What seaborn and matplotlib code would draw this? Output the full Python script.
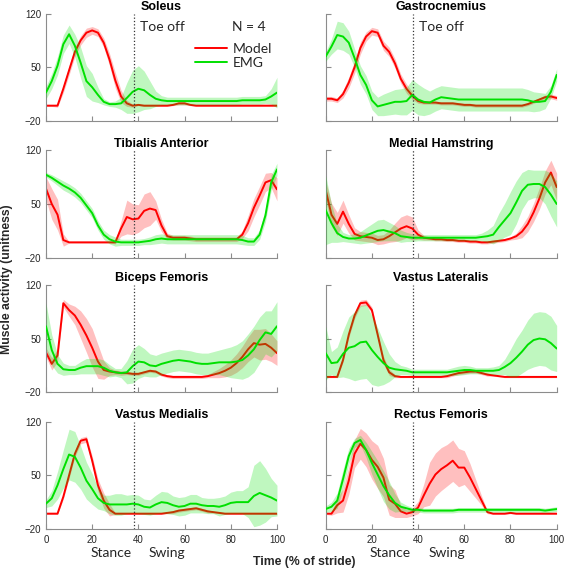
import numpy as np
import pandas as pd
import matplotlib
matplotlib.use("Agg")
import matplotlib.pyplot as plt
from matplotlib.lines import Line2D
import seaborn as sns

sns.set_style("ticks")
plt.rcParams["font.family"] = ["Liberation Sans", "DejaVu Sans"]

# % of stride
PCT = [0, 2.5, 5, 7.5, 10, 12.5, 15, 17.5, 20, 22.5, 25, 27.5, 30, 32.5, 35, 37.5, 40,
       42.5, 45, 47.5, 50, 52.5, 55, 57.5, 60, 62.5, 65, 67.5, 70, 72.5, 75, 77.5, 80,
       82.5, 85, 87.5, 90, 92.5, 95, 97.5, 100]

MUSCLES = ["Soleus", "Gastrocnemius", "Tibialis Anterior", "Medial Hamstring",
           "Biceps Femoris", "Vastus Lateralis", "Vastus Medialis", "Rectus Femoris"]

SOL_MODEL = [0, 0, 0, 22, 46, 70, 85, 95, 98, 95, 82, 60, 33, 12, 3, 0, 1, 0, 0, 0, 0, 0, 1, 3, 3, 1,
             0, 0, 0, 0, 0, 0, 0, 0, 0, 0, 0, 0, 0, 0, 0]
SOL_MODEL_SD = [1, 1, 2, 5, 6, 6, 6, 6, 5, 5, 6, 8, 10, 8, 4, 2, 1, 1, 1, 1, 1, 1, 1, 2, 2, 1,
                1, 1, 1, 1, 1, 1, 1, 1, 1, 1, 1, 1, 1, 1, 1]
SOL_EMG = [17, 32, 52, 80, 93, 78, 56, 32, 24, 14, 5, 2, 2, 3, 10, 18, 22, 20, 14, 9, 7, 6, 6, 6, 6,
           6, 6, 6, 6, 6, 6, 6, 6, 6, 7, 7, 7, 7, 8, 12, 17]
SOL_EMG_SD = [8, 10, 12, 12, 12, 15, 20, 20, 18, 10, 4, 3, 4, 8, 20, 28, 30, 25, 18, 10, 6, 5, 5, 5,
              5, 5, 5, 5, 5, 5, 5, 5, 5, 5, 5, 5, 5, 5, 5, 10, 20]

GAS_MODEL = [9, 9, 7, 15, 30, 50, 75, 90, 97, 95, 78, 70, 55, 35, 22, 13, 6, 4, 4, 4, 3, 3, 3, 2, 1,
             1, 0, 0, 0, 0, 0, 0, 0, 0, 0, 2, 5, 8, 11, 12, 10]
GAS_MODEL_SD = [3, 3, 3, 5, 7, 8, 8, 6, 5, 5, 6, 6, 6, 6, 6, 5, 3, 2, 2, 2, 2, 2, 2, 2, 2, 2, 2, 2,
                2, 2, 2, 2, 2, 2, 2, 2, 2, 2, 3, 3, 3]
GAS_EMG = [64, 77, 92, 90, 82, 62, 40, 27, 7, -1, 1, 3, 5, 5, 6, 14, 8, 5, 4, 8, 11, 10, 9, 8, 8, 8,
           8, 8, 8, 8, 8, 8, 8, 8, 8, 7, 5, 5, 6, 18, 40]
GAS_EMG_SD = [6, 10, 18, 18, 15, 12, 12, 12, 12, 12, 14, 15, 16, 17, 18, 20, 20, 18, 15, 15, 15, 15,
              15, 15, 15, 15, 15, 15, 15, 15, 15, 15, 15, 15, 15, 14, 13, 12, 10, 8, 8]

TA_MODEL = [70, 50, 36, 3, 0, 0, 0, 0, 0, 0, 0, 0, 0, 18, 33, 30, 31, 41, 44, 42, 22, 8, 6, 6, 6, 5,
            4, 4, 4, 4, 4, 4, 4, 4, 10, 25, 45, 61, 78, 81, 69]
TA_MODEL_SD = [15, 20, 20, 8, 1, 1, 1, 1, 1, 1, 1, 1, 2, 10, 22, 20, 18, 22, 22, 12, 8, 4, 3, 3, 3, 3,
               3, 3, 3, 3, 3, 3, 3, 3, 5, 10, 12, 12, 12, 10, 15]
TA_EMG = [88, 84, 79, 74, 70, 65, 58, 48, 38, 22, 10, 4, 1, 0, 0, 0, 0, 1, 2, 4, 5, 4, 4, 4, 4, 4, 4,
          4, 4, 4, 4, 4, 4, 4, 3, 1, 1, 10, 35, 78, 95]
TA_EMG_SD = [3, 4, 5, 6, 6, 6, 6, 6, 6, 6, 6, 6, 6, 4, 4, 4, 4, 4, 5, 6, 6, 6, 6, 6, 6, 6, 6, 6, 6, 6,
             6, 6, 6, 6, 6, 5, 5, 6, 8, 10, 8]

MH_MODEL = [68, 36, 24, 40, 24, 11, 8, 7, 6, 3, 4, 8, 13, 18, 21, 18, 10, 6, 5, 4, 4, 3, 3, 2, 2, 1,
            1, 0, 0, 1, 2, 3, 5, 8, 14, 24, 39, 57, 78, 91, 72]
MH_MODEL_SD = [12, 15, 15, 15, 12, 8, 6, 6, 6, 6, 6, 8, 12, 15, 15, 15, 6, 3, 2, 2, 2, 2, 2, 2, 2, 2,
               2, 2, 2, 2, 2, 2, 2, 4, 8, 10, 12, 14, 15, 16, 18]
MH_EMG = [42, 25, 12, 7, 5, 5, 6, 9, 12, 15, 16, 14, 12, 8, 7, 6, 6, 6, 6, 6, 6, 6, 6, 6, 6, 6, 6, 7,
          8, 10, 20, 29, 38, 52, 67, 75, 76, 76, 72, 62, 50]
MH_EMG_SD = [45, 25, 12, 6, 5, 6, 8, 10, 12, 14, 14, 12, 10, 8, 6, 5, 4, 4, 4, 4, 4, 4, 4, 4, 4, 4, 4,
             5, 8, 12, 18, 22, 28, 28, 24, 20, 18, 18, 22, 28, 30]

BF_MODEL = [32, 17, 28, 96, 87, 80, 68, 54, 38, 20, 9, 7, 6, 5, 5, 4, 4, 6, 8, 7, 3, 1, 0, 0, 0, 0, 0,
            0, 1, 3, 5, 8, 12, 18, 26, 36, 44, 42, 43, 38, 31]
BF_MODEL_SD = [6, 8, 8, 5, 8, 12, 18, 22, 25, 22, 12, 5, 3, 3, 2, 2, 2, 2, 2, 2, 2, 2, 2, 2, 2, 2, 2,
               2, 2, 4, 6, 8, 10, 12, 14, 16, 18, 20, 20, 18, 16]
BF_EMG = [66, 35, 17, 10, 9, 9, 12, 14, 14, 14, 12, 8, 6, 5, 6, 14, 20, 19, 15, 14, 17, 19, 21, 22, 21,
          20, 18, 17, 17, 18, 19, 19, 19, 20, 22, 28, 36, 48, 58, 56, 66]
BF_EMG_SD = [30, 20, 12, 8, 6, 6, 8, 10, 10, 10, 10, 8, 5, 6, 15, 22, 22, 18, 15, 14, 14, 14, 14, 14,
             14, 14, 14, 14, 14, 15, 16, 18, 20, 22, 25, 28, 30, 30, 28, 30, 32]

VL_MODEL = [0, 0, 0, 22, 55, 80, 96, 97, 87, 55, 22, 6, 1, 0, 0, 0, 0, 0, 0, 0, 0, 1, 3, 5, 6, 7, 7, 5,
            3, 2, 1, 0, 0, 0, 0, 0, 0, 0, 0, 0, 0]
VL_MODEL_SD = [1, 1, 1, 3, 4, 4, 4, 4, 4, 4, 5, 4, 2, 1, 1, 1, 1, 1, 1, 1, 1, 2, 2, 2, 2, 2, 2, 2, 2,
               1, 1, 1, 1, 1, 1, 1, 1, 1, 1, 1, 1]
VL_EMG = [31, 18, 19, 30, 38, 40, 45, 46, 35, 26, 18, 12, 10, 9, 8, 6, 6, 6, 6, 6, 6, 6, 7, 8, 9, 9, 8,
          8, 8, 8, 9, 13, 18, 25, 33, 42, 48, 50, 49, 44, 37]
VL_EMG_SD = [35, 15, 20, 30, 40, 45, 48, 48, 45, 38, 28, 18, 10, 6, 5, 4, 4, 4, 4, 4, 4, 4, 5, 6, 6,
             5, 4, 4, 4, 5, 6, 10, 18, 25, 28, 32, 35, 35, 35, 35, 30]

VM_MODEL = [0, 0, 0, 22, 50, 78, 95, 97, 69, 37, 17, 5, 0, 0, 0, 0, 0, 0, 0, 0, 0, 1, 2, 4, 5, 6, 7, 5,
            3, 2, 1, 0, 0, 0, 0, 0, 0, 0, 0, 0, 0]
VM_MODEL_SD = [1, 1, 1, 3, 4, 4, 4, 4, 6, 8, 10, 8, 1, 1, 1, 1, 1, 1, 1, 1, 1, 1, 2, 2, 2, 2, 2, 2, 2,
               1, 1, 1, 1, 1, 1, 1, 1, 1, 1, 1, 1]
VM_EMG = [13, 20, 37, 58, 77, 74, 60, 43, 32, 20, 14, 12, 12, 12, 12, 13, 12, 9, 8, 12, 15, 14, 11, 9,
          10, 13, 13, 11, 10, 10, 9, 11, 14, 15, 15, 15, 23, 27, 24, 21, 17]
VM_EMG_SD = [5, 10, 18, 25, 33, 33, 28, 24, 20, 14, 10, 12, 14, 14, 12, 12, 12, 10, 10, 12, 14, 14, 12,
             12, 12, 12, 12, 10, 10, 10, 12, 12, 14, 15, 15, 20, 40, 42, 35, 25, 20]

RF_MODEL = [0, 0, 11, 17, 43, 78, 91, 83, 70, 61, 47, 18, 13, 3, 0, 2, 8, 24, 39, 51, 58, 63, 69, 60,
            60, 47, 32, 17, 2, 0, 0, 0, 1, 0, 0, 0, 0, 0, 0, 0, 0]
RF_MODEL_SD = [1, 2, 10, 15, 18, 18, 20, 22, 25, 28, 25, 20, 18, 8, 5, 5, 8, 15, 28, 28, 28, 27, 27,
               25, 22, 18, 12, 6, 2, 1, 1, 1, 1, 1, 1, 1, 1, 1, 1, 1, 1]
RF_EMG = [6, 9, 17, 45, 75, 92, 96, 83, 66, 51, 36, 24, 14, 9, 7, 5, 5, 4, 4, 4, 4, 4, 4, 5, 5, 5, 5,
          5, 5, 5, 5, 5, 5, 5, 5, 5, 5, 5, 4, 5, 6]
RF_EMG_SD = [4, 6, 10, 12, 10, 6, 6, 10, 15, 18, 20, 18, 12, 6, 4, 3, 3, 3, 3, 3, 3, 3, 3, 3, 3, 3, 3,
             3, 3, 3, 3, 3, 3, 3, 3, 3, 3, 3, 3, 3, 3]

SERIES = {
    "Soleus": (SOL_MODEL, SOL_MODEL_SD, SOL_EMG, SOL_EMG_SD),
    "Gastrocnemius": (GAS_MODEL, GAS_MODEL_SD, GAS_EMG, GAS_EMG_SD),
    "Tibialis Anterior": (TA_MODEL, TA_MODEL_SD, TA_EMG, TA_EMG_SD),
    "Medial Hamstring": (MH_MODEL, MH_MODEL_SD, MH_EMG, MH_EMG_SD),
    "Biceps Femoris": (BF_MODEL, BF_MODEL_SD, BF_EMG, BF_EMG_SD),
    "Vastus Lateralis": (VL_MODEL, VL_MODEL_SD, VL_EMG, VL_EMG_SD),
    "Vastus Medialis": (VM_MODEL, VM_MODEL_SD, VM_EMG, VM_EMG_SD),
    "Rectus Femoris": (RF_MODEL, RF_MODEL_SD, RF_EMG, RF_EMG_SD),
}

TOE_OFF = 38
RED = "#ff0000"
GREEN = "#00e000"
SPINE = "#8c8c8c"
TXT = "#262626"
CAL = ["Lato", "DejaVu Sans"]

fig = plt.figure(figsize=(5.67, 5.70), dpi=100)
lefts = [0.0811, 0.5744]
bottoms = [0.7877, 0.5479, 0.3118, 0.0719]
W, H = 0.4074, 0.1886

x = np.array(PCT, dtype=float)
for i, m in enumerate(MUSCLES):
    r, c = divmod(i, 2)
    ax = fig.add_axes([lefts[c], bottoms[r], W, H])
    mod, mod_sd, emg, emg_sd = [np.array(a, dtype=float) for a in SERIES[m]]
    df = pd.DataFrame({"pct": x, "model": mod, "emg": emg})

    ax.fill_between(x, mod - mod_sd, mod + mod_sd, color=RED, alpha=0.25, lw=0, zorder=1)
    sns.lineplot(data=df, x="pct", y="model", ax=ax, color=RED, lw=1.4, zorder=2)
    ax.fill_between(x, emg - emg_sd, emg + emg_sd, color=GREEN, alpha=0.25, lw=0, zorder=3)
    sns.lineplot(data=df, x="pct", y="emg", ax=ax, color=GREEN, lw=1.4, zorder=4)
    ax.axvline(TOE_OFF, color="#333333", ls=":", lw=0.9, zorder=5)

    ax.set_xlim(0, 100)
    ax.set_ylim(-20, 120)
    ax.set_xticks([0, 20, 40, 60, 80, 100])
    ax.set_yticks([-20, 50, 120])
    ax.set_xlabel("")
    ax.set_ylabel("")
    for s in ["top", "right"]:
        ax.spines[s].set_visible(False)
    for s in ["left", "bottom"]:
        ax.spines[s].set_color(SPINE)
        ax.spines[s].set_linewidth(0.8)
    ax.tick_params(direction="in", length=3.5, width=0.8, color=SPINE,
                   labelcolor=TXT, labelsize=7)
    ax.tick_params(axis="x", pad=4)
    if c == 1:
        ax.tick_params(labelleft=False)
    if r < 3:
        ax.tick_params(labelbottom=False)
    ax.set_title(m, fontsize=9, fontweight="bold", pad=2.5, color="black")

    if r == 0:
        ax.text(40.6, 103, "Toe off", family=CAL, fontsize=10, va="center", ha="left")
    if r == 3:
        tr = ax.get_xaxis_transform()
        ax.text(28, -0.22, "Stance", family=CAL, fontsize=10, va="center", ha="center", transform=tr)
        ax.text(52.5, -0.22, "Swing", family=CAL, fontsize=10, va="center", ha="center", transform=tr)
    if i == 0:
        ax.text(80.4, 102, "N = 4", family=CAL, fontsize=10, va="center", ha="left")
        handles = [Line2D([], [], color=RED, lw=1.4), Line2D([], [], color=GREEN, lw=1.4)]
        ax.legend(handles, ["Model", "EMG"], loc="center left", bbox_to_anchor=(0.645, 0.608),
                  frameon=False, borderpad=0, borderaxespad=0, handlelength=2.3,
                  handletextpad=0.4, labelspacing=0.15, prop={"family": CAL, "size": 10})

fig.text(0.536, 0.0146, "Time (% of stride)", fontsize=8.8, fontweight="bold",
         ha="center", va="center")
fig.text(0.012, 0.5096, "Muscle activity (unitness)", fontsize=8.8, fontweight="bold",
         ha="center", va="center", rotation=90)

fig.savefig("out.png", dpi=100)
